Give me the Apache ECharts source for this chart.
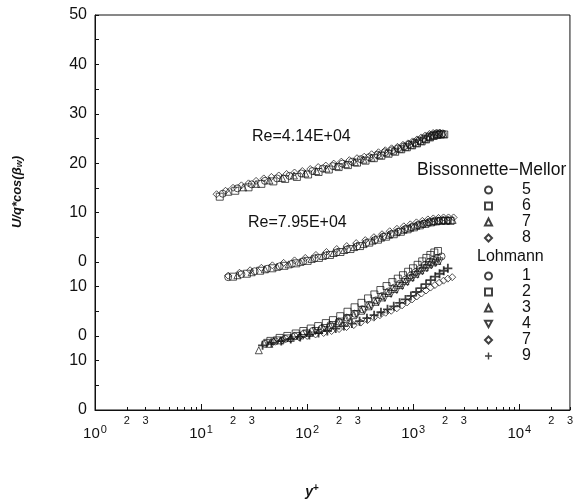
<!DOCTYPE html>
<html>
<head>
<meta charset="utf-8">
<script src="https://cdn.jsdelivr.net/npm/echarts@6/dist/echarts.min.js"></script>
<style>
  html, body { margin: 0; padding: 0; background: #fff; }
  #chart { width: 576px; height: 500px; }
</style>
</head>
<body>
<div id="chart"></div>
<script>
// y axis: real values and the staggered labels printed at them
var yLabelValues = [0, 10, 15, 25, 30, 40, 50, 60, 70, 80];
var yLabelTexts = ['0', '10', '0', '10', '0', '10', '20', '30', '40', '50'];
var decadeTicks = [1, 10, 100, 1000, 10000];
var minorLabelTicks = [2, 3, 20, 30, 200, 300, 2000, 3000, 20000, 30000];
var minorTicks = [2,3,4,5,6,7,8,9, 20,30,40,50,60,70,80,90, 200,300,400,500,600,700,800,900,
  2000,3000,4000,5000,6000,7000,8000,9000, 20000,30000];

// vertical shift of each group (in plotted units)
var offsetRe414 = 30;
var offsetRe795 = 15;
var offsetLohmann = 0;

// Bissonnette-Mellor, Re=4.14E+04  [y+, U/q*cos(beta_w)]
var bm5a = [[16,13.8],[22,14.9],[30,15.7],[40,16.4],[52,16.9],[68,17.4],[88,17.9],[112,18.4],[140,18.9],[175,19.4],[215,19.9],[265,20.3],[320,20.8],[385,21.2],[460,21.7],[540,22.2],[630,22.6],[720,23.0],[820,23.4],[920,23.8],[1030,24.2],[1140,24.6],[1260,25.0],[1380,25.4],[1500,25.7],[1630,25.9],[1760,26.0],[1900,26.0]];
var bm6a = [[15,13.2],[21,14.4],[28,15.1],[37,15.8],[48,16.3],[62,16.8],[80,17.2],[102,17.7],[128,18.2],[160,18.7],[198,19.2],[242,19.6],[295,20.1],[355,20.5],[425,21.0],[500,21.5],[585,21.9],[675,22.3],[770,22.8],[870,23.2],[975,23.6],[1085,24.0],[1200,24.4],[1320,24.8],[1440,25.2],[1560,25.5],[1690,25.7],[1820,25.8],[1960,25.8]];
var bm7a = [[18,14.2],[25,15.1],[33,15.8],[44,16.5],[58,17.0],[75,17.5],[96,17.9],[122,18.4],[152,18.9],[190,19.4],[232,19.8],[282,20.2],[340,20.7],[405,21.1],[480,21.6],[560,22.1],[650,22.5],[745,22.9],[845,23.3],[950,23.7],[1060,24.1],[1175,24.5],[1290,24.9],[1410,25.3],[1530,25.6],[1660,25.8],[1790,25.9],[1930,25.9]];
var bm8a = [[14,13.7],[17,14.4],[20,15.0],[24,15.5],[28,15.9],[33,16.4],[39,16.9],[46,17.2],[54,17.5],[64,17.8],[76,18.1],[90,18.4],[107,18.8],[127,19.2],[150,19.5],[178,19.9],[210,20.3],[250,20.6],[295,21.0],[345,21.3],[405,21.8],[470,22.2],[545,22.6],[625,23.0],[710,23.3],[800,23.7],[890,24.0],[985,24.4],[1085,24.8],[1190,25.2],[1300,25.6],[1420,25.9],[1540,26.1],[1660,26.2],[1780,26.2]];

// Bissonnette-Mellor, Re=7.95E+04
var bm5b = [[18,11.9],[24,12.5],[32,13.1],[42,13.6],[55,14.1],[72,14.6],[92,15.1],[118,15.7],[150,16.3],[190,16.9],[238,17.5],[295,18.1],[360,18.8],[435,19.4],[520,20.1],[615,20.6],[720,21.1],[835,21.6],[960,22.0],[1095,22.4],[1240,22.7],[1395,23.0],[1560,23.2],[1740,23.3],[1930,23.4],[2130,23.4]];
var bm6b = [[20,12.0],[27,12.6],[36,13.2],[47,13.7],[61,14.2],[79,14.7],[101,15.2],[129,15.8],[164,16.4],[206,17.0],[256,17.6],[315,18.2],[385,18.9],[465,19.5],[555,20.1],[655,20.6],[765,21.1],[885,21.6],[1015,22.0],[1155,22.4],[1305,22.7],[1470,23.0],[1645,23.2],[1830,23.3],[2030,23.3],[2250,23.3]];
var bm7b = [[22,12.3],[30,12.9],[40,13.5],[52,14.0],[67,14.5],[86,15.0],[110,15.6],[140,16.2],[177,16.8],[222,17.4],[276,18.0],[340,18.6],[413,19.3],[497,19.9],[590,20.5],[695,21.0],[810,21.5],[935,21.9],[1070,22.3],[1215,22.7],[1370,23.0],[1540,23.2],[1720,23.4],[1910,23.5],[2120,23.5],[2350,23.5]];
var bm8b = [[18,12.2],[23,12.8],[29,13.3],[37,13.8],[47,14.3],[60,14.8],[76,15.3],[96,15.8],[121,16.4],[152,17.0],[190,17.6],[236,18.2],[290,18.8],[353,19.4],[426,20.0],[508,20.6],[600,21.2],[702,21.7],[815,22.2],[938,22.6],[1072,23.0],[1218,23.3],[1375,23.6],[1545,23.8],[1730,23.9],[1930,24.0],[2150,24.0],[2400,24.0]];

// Lohmann
var lo1 = [[40,13.4],[50,13.9],[62,14.4],[76,14.9],[93,15.4],[113,16.0],[137,16.5],[165,17.2],[198,17.9],[236,18.7],[280,19.5],[330,20.4],[385,21.3],[445,22.2],[510,23.1],[585,24.0],[665,24.8],[750,25.6],[845,26.4],[945,27.2],[1050,27.9],[1165,28.6],[1285,29.3],[1410,29.9],[1545,30.4],[1690,30.8],[1850,31.1]];
var lo2 = [[45,14.0],[55,14.6],[65,15.0],[78,15.5],[92,16.0],[108,16.5],[127,17.0],[150,17.6],[175,18.2],[205,19.0],[240,19.9],[280,20.8],[325,21.7],[375,22.6],[430,23.4],[490,24.3],[560,25.1],[635,25.9],[715,26.6],[800,27.3],[895,28.0],[995,28.7],[1100,29.4],[1215,30.1],[1330,30.8],[1450,31.4],[1580,31.9],[1710,32.2]];
var lo3 = [[35,12.1],[44,13.4],[56,14.1],[70,14.6],[86,15.1],[106,15.6],[130,16.2],[158,16.9],[190,17.6],[228,18.4],[272,19.2],[322,20.1],[378,21.0],[440,21.9],[508,22.8],[582,23.7],[662,24.5],[750,25.3],[845,26.1],[945,26.9],[1050,27.6],[1165,28.3],[1285,28.9],[1410,29.5],[1545,29.9],[1690,30.2]];
var lo4 = [[42,13.6],[52,14.1],[65,14.5],[80,15.0],[98,15.5],[120,16.0],[146,16.6],[176,17.2],[210,17.9],[250,18.6],[296,19.4],[348,20.2],[405,21.0],[470,21.9],[540,22.7],[618,23.5],[700,24.3],[790,25.1],[885,25.9],[990,26.7],[1100,27.4],[1220,28.1],[1345,28.7],[1480,29.3],[1620,29.8],[1770,30.1]];
var lo7 = [[48,13.8],[58,14.1],[70,14.4],[84,14.7],[100,15.0],[120,15.3],[143,15.6],[170,16.0],[200,16.4],[235,16.8],[275,17.2],[320,17.7],[370,18.2],[425,18.7],[485,19.2],[550,19.7],[620,20.1],[700,20.6],[785,21.2],[875,21.8],[975,22.4],[1080,23.0],[1195,23.6],[1320,24.2],[1455,24.8],[1600,25.3],[1760,25.8],[1930,26.2],[2120,26.6],[2330,26.9]];
var lo9 = [[38,13.1],[46,13.6],[57,14.0],[70,14.4],[86,14.8],[105,15.2],[128,15.6],[155,16.0],[186,16.5],[222,17.0],[264,17.5],[312,18.0],[366,18.6],[428,19.2],[496,19.8],[572,20.4],[655,21.0],[745,21.7],[845,22.4],[950,23.1],[1065,23.9],[1190,24.7],[1320,25.5],[1460,26.3],[1610,27.0],[1770,27.6],[1940,28.2],[2120,28.7]];

var FONT = '"Liberation Sans", Arial, sans-serif';
var INK = '#111';
var PLUS = 'path://M4,0H6V4H10V6H6V10H4V6H0V4H4Z';
var DOWN_TRI = 'path://M0,0L10,0L5,9Z';

function shift(arr, off) {
  return arr.map(function (p) { return [p[0], p[1] + off]; });
}

function mk(name, data, off, symbol, extra) {
  var s = {
    name: name,
    type: 'scatter',
    data: shift(data, off),
    symbol: symbol,
    symbolSize: 7,
    itemStyle: { color: 'rgba(255,255,255,0)', borderColor: INK, borderWidth: 0.9 },
    emphasis: { disabled: true },
    silent: true,
    z: 3
  };
  if (extra) Object.assign(s, extra);
  return s;
}

var plusStyle = { symbolSize: 9, itemStyle: { color: INK, borderWidth: 0 } };

var series = [
  mk('BM 5', bm5a, offsetRe414, 'circle'),
  mk('BM 6', bm6a, offsetRe414, 'rect'),
  mk('BM 7', bm7a, offsetRe414, 'triangle'),
  mk('BM 8', bm8a, offsetRe414, 'diamond'),
  mk('BM 5', bm5b, offsetRe795, 'circle'),
  mk('BM 6', bm6b, offsetRe795, 'rect'),
  mk('BM 7', bm7b, offsetRe795, 'triangle'),
  mk('BM 8', bm8b, offsetRe795, 'diamond'),
  mk('L 1', lo1, offsetLohmann, 'circle'),
  mk('L 2', lo2, offsetLohmann, 'rect'),
  mk('L 3', lo3, offsetLohmann, 'triangle'),
  mk('L 4', lo4, offsetLohmann, DOWN_TRI),
  mk('L 7', lo7, offsetLohmann, 'diamond'),
  mk('L 9', lo9, offsetLohmann, PLUS, plusStyle)
];

var legendBase = {
  orient: 'vertical',
  left: 484,
  padding: 0,
  itemWidth: 7,
  itemHeight: 7,
  itemGap: 0,
  selectedMode: false,
  formatter: function (name) { return name.split(' ')[1]; },
  textStyle: { fontFamily: FONT, fontSize: 16, lineHeight: 16, color: INK, padding: [0, 0, 0, 25] }
};

var option = {
  animation: false,
  backgroundColor: '#fff',
  grid: {
    left: 95, right: 1, top: 15, bottom: 90,
    show: true, borderColor: INK, borderWidth: 1
  },
  xAxis: [
    {
      type: 'log', logBase: 10, min: 1, max: 30000,
      axisLine: { lineStyle: { color: INK, width: 1 } },
      axisTick: { inside: true, length: 6, customValues: decadeTicks, lineStyle: { color: INK } },
      axisLabel: {
        customValues: decadeTicks,
        margin: 14,
        formatter: function (v) { return '{a|10}{s|' + Math.round(Math.log10(v)) + '}'; },
        rich: {
          a: { fontFamily: FONT, fontSize: 15, color: INK },
          s: { fontFamily: FONT, fontSize: 11, color: INK, verticalAlign: 'top', padding: [0, 0, 8, 1] }
        }
      },
      splitLine: { show: false }
    },
    {
      type: 'log', logBase: 10, min: 1, max: 30000, position: 'bottom',
      axisLine: { show: false },
      axisTick: { inside: true, length: 3, customValues: minorTicks, lineStyle: { color: INK } },
      axisLabel: {
        customValues: minorLabelTicks, margin: 5,
        fontFamily: FONT, fontSize: 11, color: INK,
        formatter: function (v) { return String(v).charAt(0); }
      },
      splitLine: { show: false }
    }
  ],
  yAxis: {
    type: 'value', min: 0, max: 80, interval: 5,
    axisLine: { show: true, lineStyle: { color: INK, width: 1 } },
    axisTick: { show: true, inside: true, length: 4, lineStyle: { color: INK } },
    axisLabel: {
      customValues: yLabelValues,
      margin: 8,
      fontFamily: FONT, fontSize: 16, color: INK,
      formatter: function (v) {
        var i = yLabelValues.indexOf(v);
        return i >= 0 ? yLabelTexts[i] : '';
      }
    },
    splitLine: { show: false }
  },
  legend: [
    Object.assign({}, legendBase, { top: 182, data: ['BM 5', 'BM 6', 'BM 7', 'BM 8'] }),
    Object.assign({}, legendBase, { top: 268, data: ['L 1', 'L 2', 'L 3', { name: 'L 4', icon: DOWN_TRI }, 'L 7', 'L 9'] })
  ],
  graphic: [
    { type: 'text', x: 252, y: 137, style: { text: 'Re=4.14E+04', font: '16px ' + FONT, fill: INK, verticalAlign: 'middle' } },
    { type: 'text', x: 248, y: 223, style: { text: 'Re=7.95E+04', font: '16px ' + FONT, fill: INK, verticalAlign: 'middle' } },
    { type: 'text', x: 417, y: 170, style: { text: 'Bissonnette\u2212Mellor', font: '17.5px ' + FONT, fill: INK, verticalAlign: 'middle' } },
    { type: 'text', x: 477, y: 257, style: { text: 'Lohmann', font: '16px ' + FONT, fill: INK, verticalAlign: 'middle' } },
    {
      type: 'text', x: 17, y: 192, rotation: Math.PI / 2,
      style: {
        text: '{a|U/q*cos(β}{s|w}{a|)}', align: 'center', verticalAlign: 'middle',
        rich: {
          a: { fontFamily: FONT, fontSize: 13, fontWeight: 'bold', fontStyle: 'italic', fill: INK },
          s: { fontFamily: FONT, fontSize: 9, fontWeight: 'bold', fontStyle: 'italic', fill: INK, padding: [6, 0, 0, 0] }
        }
      }
    },
    {
      type: 'text', x: 312, y: 492,
      style: {
        text: '{a|y}{s|+}', align: 'center', verticalAlign: 'middle',
        rich: {
          a: { fontFamily: FONT, fontSize: 14, fontWeight: 'bold', fontStyle: 'italic', fill: INK },
          s: { fontFamily: FONT, fontSize: 10, fontWeight: 'bold', fill: INK, padding: [0, 0, 8, 0] }
        }
      }
    }
  ],
  series: series
};

var myChart = echarts.init(document.getElementById('chart'));
myChart.setOption(option);
</script>
</body>
</html>
